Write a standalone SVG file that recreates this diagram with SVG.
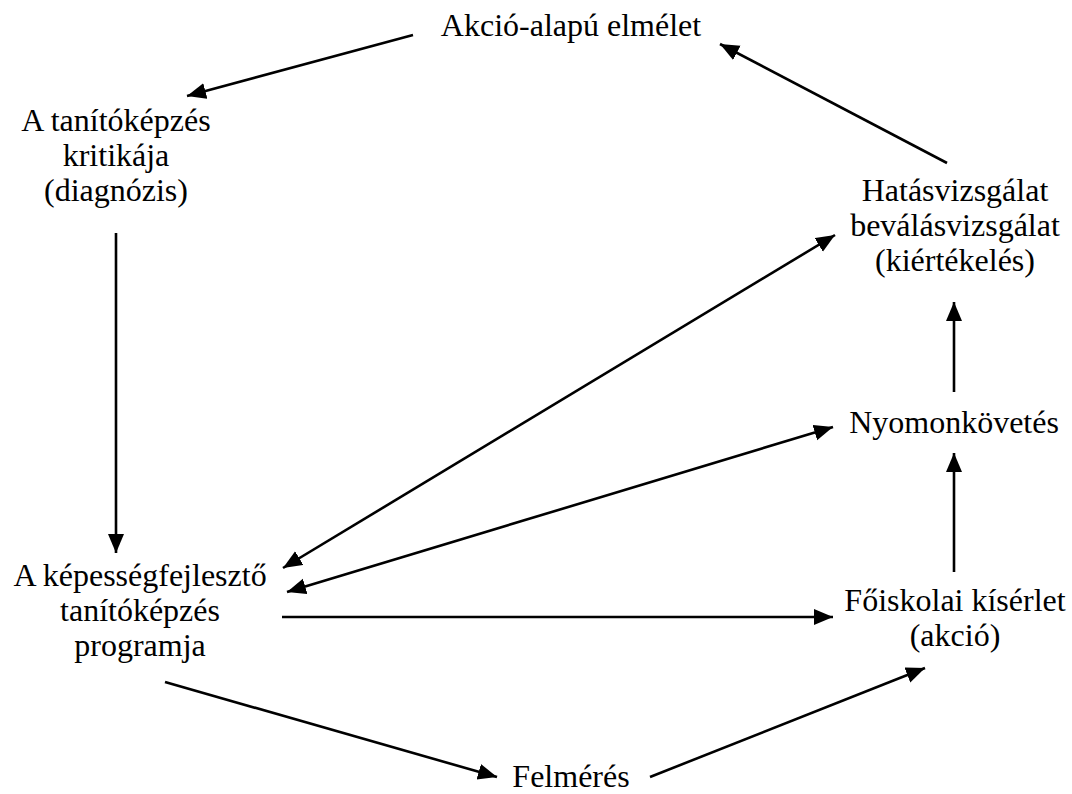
<svg xmlns="http://www.w3.org/2000/svg" width="1072" height="794" viewBox="0 0 1072 794">
<style>
text{font-family:"Liberation Serif","Times New Roman",serif;font-size:32px;fill:#000;text-anchor:middle}
.c line{stroke:#000;stroke-width:2.6;fill:none}
</style>
<defs>
<marker id="ah" markerUnits="userSpaceOnUse" markerWidth="22" markerHeight="18" refX="19" refY="8" orient="auto-start-reverse"><path d="M0,0 L19,8 L0,16 z" fill="#000"/></marker>
</defs>
<rect width="1072" height="794" fill="#fff"/>
<g class="c" id="connectors">
<line x1="413" y1="35" x2="187" y2="96" marker-end="url(#ah)"/>
<line x1="947" y1="163" x2="720" y2="44" marker-end="url(#ah)"/>
<line x1="116" y1="233" x2="116" y2="553" marker-end="url(#ah)"/>
<line x1="283" y1="568" x2="835" y2="235" marker-start="url(#ah)" marker-end="url(#ah)"/>
<line x1="287" y1="592" x2="833" y2="427" marker-start="url(#ah)" marker-end="url(#ah)"/>
<line x1="282" y1="617" x2="833" y2="617" marker-end="url(#ah)"/>
<line x1="165" y1="682" x2="497" y2="777" marker-end="url(#ah)"/>
<line x1="650" y1="777" x2="925" y2="668" marker-end="url(#ah)"/>
<line x1="954" y1="572" x2="954" y2="453" marker-end="url(#ah)"/>
<line x1="954" y1="392" x2="954" y2="302" marker-end="url(#ah)"/>
</g>
<g id="akcio"><text x="571" y="36">Akció-alapú elmélet</text></g>
<g id="kritika"><text x="116" y="131">A tanítóképzés</text><text x="116" y="166">kritikája</text><text x="116" y="201">(diagnózis)</text></g>
<g id="hatas"><text x="955" y="201">Hatásvizsgálat</text><text x="955" y="236">beválásvizsgálat</text><text x="955" y="271">(kiértékelés)</text></g>
<g id="nyomon"><text x="954" y="433">Nyomonkövetés</text></g>
<g id="program"><text x="140" y="586">A képességfejlesztő</text><text x="140" y="621">tanítóképzés</text><text x="140" y="656">programja</text></g>
<g id="foiskola"><text x="955" y="611">Főiskolai kísérlet</text><text x="955" y="646">(akció)</text></g>
<g id="felmeres"><text x="571" y="787">Felmérés</text></g>
</svg>
